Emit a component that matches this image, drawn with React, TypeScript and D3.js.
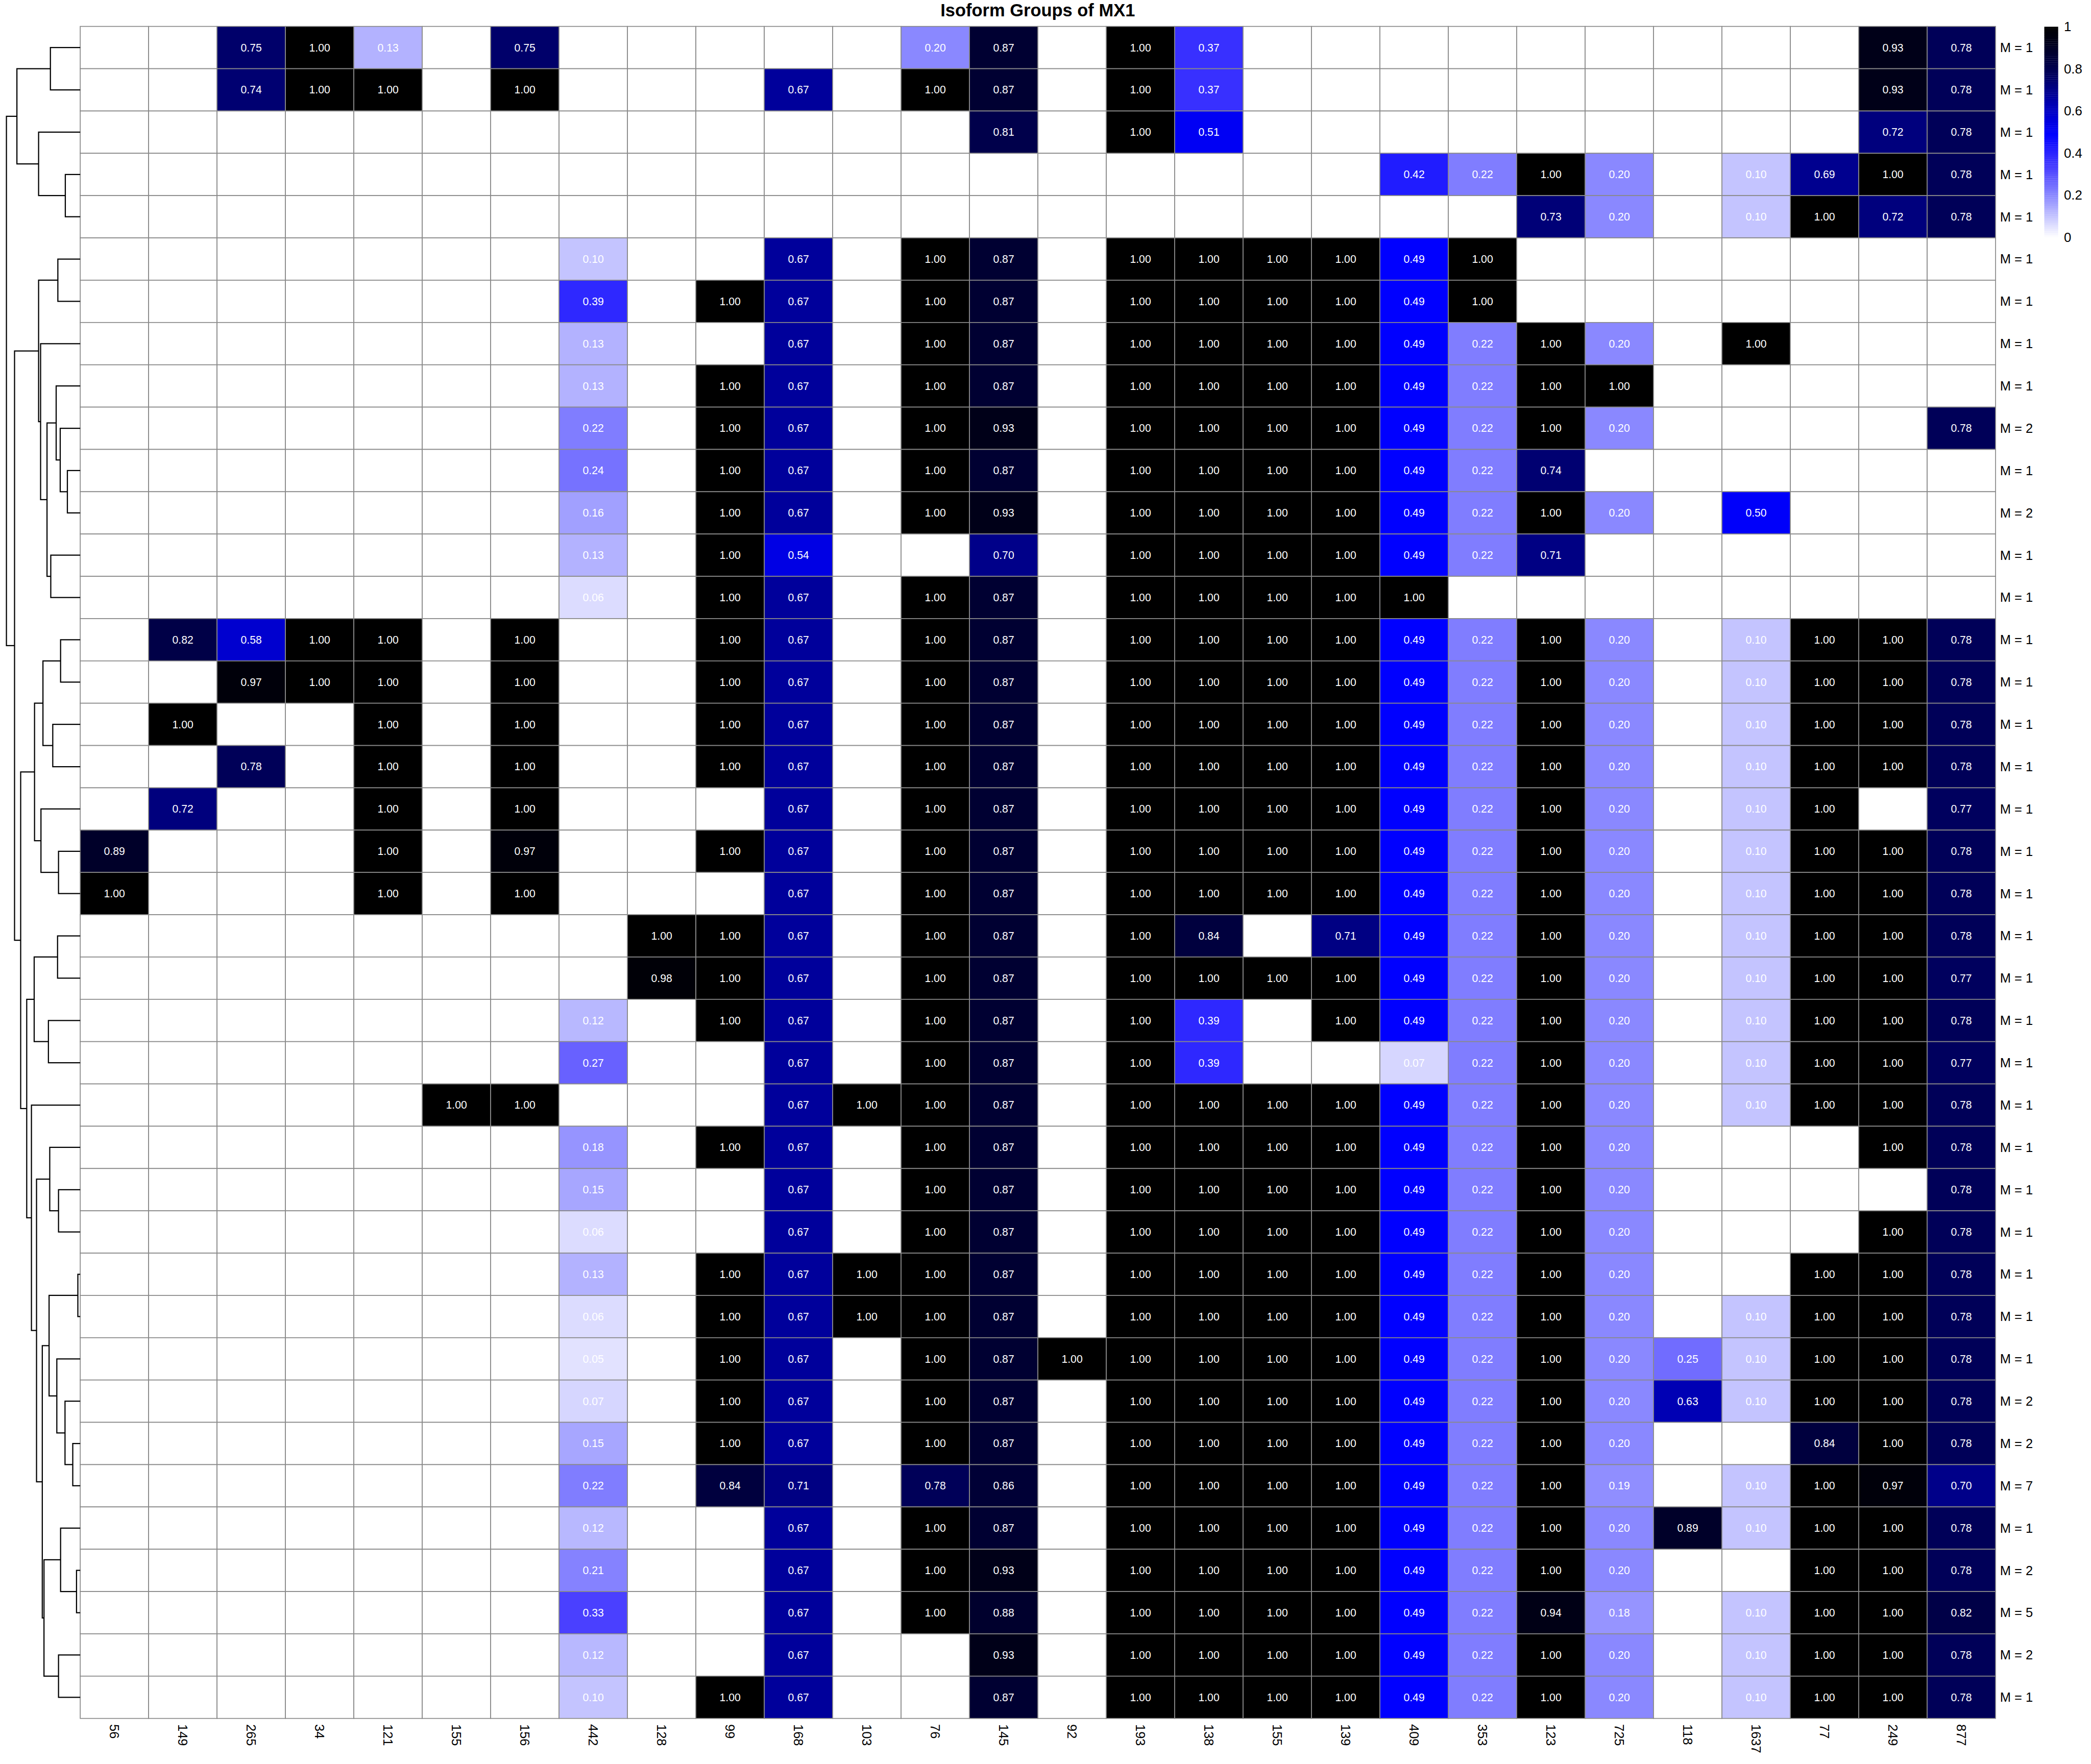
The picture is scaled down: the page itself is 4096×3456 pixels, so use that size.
import React from 'react';
import * as d3 from 'd3';

// reference is 6178 x 5213, window is 4096 x 3456
const S = 4096 / 6178;
const FONT = '"Liberation Sans", Arial, Helvetica, sans-serif';

const title = 'Isoform Groups of MX1';

const columns = ['56', '149', '265', '34', '121', '155', '156', '442', '128', '99', '168', '103', '76', '145',
  '92', '193', '138', '155', '139', '409', '353', '123', '725', '118', '1637', '77', '249', '877'];

const mCounts = [1, 1, 1, 1, 1, 1, 1, 1, 1, 2, 1, 2, 1, 1, 1, 1, 1, 1, 1, 1,
  1, 1, 1, 1, 1, 1, 1, 1, 1, 1, 1, 1, 2, 2, 7, 1, 2, 5, 2, 1];

const legendTicks = [0, 0.2, 0.4, 0.6, 0.8, 1];

const _ = null;
const values: (number | null)[][] = [
  [_, _, .75, 1, .13, _, .75, _, _, _, _, _, .20, .87, _, 1, .37, _, _, _, _, _, _, _, _, _, .93, .78],
  [_, _, .74, 1, 1, _, 1, _, _, _, .67, _, 1, .87, _, 1, .37, _, _, _, _, _, _, _, _, _, .93, .78],
  [_, _, _, _, _, _, _, _, _, _, _, _, _, .81, _, 1, .51, _, _, _, _, _, _, _, _, _, .72, .78],
  [_, _, _, _, _, _, _, _, _, _, _, _, _, _, _, _, _, _, _, .42, .22, 1, .20, _, .10, .69, 1, .78],
  [_, _, _, _, _, _, _, _, _, _, _, _, _, _, _, _, _, _, _, _, _, .73, .20, _, .10, 1, .72, .78],
  [_, _, _, _, _, _, _, .10, _, _, .67, _, 1, .87, _, 1, 1, 1, 1, .49, 1, _, _, _, _, _, _, _],
  [_, _, _, _, _, _, _, .39, _, 1, .67, _, 1, .87, _, 1, 1, 1, 1, .49, 1, _, _, _, _, _, _, _],
  [_, _, _, _, _, _, _, .13, _, _, .67, _, 1, .87, _, 1, 1, 1, 1, .49, .22, 1, .20, _, 1, _, _, _],
  [_, _, _, _, _, _, _, .13, _, 1, .67, _, 1, .87, _, 1, 1, 1, 1, .49, .22, 1, 1, _, _, _, _, _],
  [_, _, _, _, _, _, _, .22, _, 1, .67, _, 1, .93, _, 1, 1, 1, 1, .49, .22, 1, .20, _, _, _, _, .78],
  [_, _, _, _, _, _, _, .24, _, 1, .67, _, 1, .87, _, 1, 1, 1, 1, .49, .22, .74, _, _, _, _, _, _],
  [_, _, _, _, _, _, _, .16, _, 1, .67, _, 1, .93, _, 1, 1, 1, 1, .49, .22, 1, .20, _, .50, _, _, _],
  [_, _, _, _, _, _, _, .13, _, 1, .54, _, _, .70, _, 1, 1, 1, 1, .49, .22, .71, _, _, _, _, _, _],
  [_, _, _, _, _, _, _, .06, _, 1, .67, _, 1, .87, _, 1, 1, 1, 1, 1, _, _, _, _, _, _, _, _],
  [_, .82, .58, 1, 1, _, 1, _, _, 1, .67, _, 1, .87, _, 1, 1, 1, 1, .49, .22, 1, .20, _, .10, 1, 1, .78],
  [_, _, .97, 1, 1, _, 1, _, _, 1, .67, _, 1, .87, _, 1, 1, 1, 1, .49, .22, 1, .20, _, .10, 1, 1, .78],
  [_, 1, _, _, 1, _, 1, _, _, 1, .67, _, 1, .87, _, 1, 1, 1, 1, .49, .22, 1, .20, _, .10, 1, 1, .78],
  [_, _, .78, _, 1, _, 1, _, _, 1, .67, _, 1, .87, _, 1, 1, 1, 1, .49, .22, 1, .20, _, .10, 1, 1, .78],
  [_, .72, _, _, 1, _, 1, _, _, _, .67, _, 1, .87, _, 1, 1, 1, 1, .49, .22, 1, .20, _, .10, 1, _, .77],
  [.89, _, _, _, 1, _, .97, _, _, 1, .67, _, 1, .87, _, 1, 1, 1, 1, .49, .22, 1, .20, _, .10, 1, 1, .78],
  [1, _, _, _, 1, _, 1, _, _, _, .67, _, 1, .87, _, 1, 1, 1, 1, .49, .22, 1, .20, _, .10, 1, 1, .78],
  [_, _, _, _, _, _, _, _, 1, 1, .67, _, 1, .87, _, 1, .84, _, .71, .49, .22, 1, .20, _, .10, 1, 1, .78],
  [_, _, _, _, _, _, _, _, .98, 1, .67, _, 1, .87, _, 1, 1, 1, 1, .49, .22, 1, .20, _, .10, 1, 1, .77],
  [_, _, _, _, _, _, _, .12, _, 1, .67, _, 1, .87, _, 1, .39, _, 1, .49, .22, 1, .20, _, .10, 1, 1, .78],
  [_, _, _, _, _, _, _, .27, _, _, .67, _, 1, .87, _, 1, .39, _, _, .07, .22, 1, .20, _, .10, 1, 1, .77],
  [_, _, _, _, _, 1, 1, _, _, _, .67, 1, 1, .87, _, 1, 1, 1, 1, .49, .22, 1, .20, _, .10, 1, 1, .78],
  [_, _, _, _, _, _, _, .18, _, 1, .67, _, 1, .87, _, 1, 1, 1, 1, .49, .22, 1, .20, _, _, _, 1, .78],
  [_, _, _, _, _, _, _, .15, _, _, .67, _, 1, .87, _, 1, 1, 1, 1, .49, .22, 1, .20, _, _, _, _, .78],
  [_, _, _, _, _, _, _, .06, _, _, .67, _, 1, .87, _, 1, 1, 1, 1, .49, .22, 1, .20, _, _, _, 1, .78],
  [_, _, _, _, _, _, _, .13, _, 1, .67, 1, 1, .87, _, 1, 1, 1, 1, .49, .22, 1, .20, _, _, 1, 1, .78],
  [_, _, _, _, _, _, _, .06, _, 1, .67, 1, 1, .87, _, 1, 1, 1, 1, .49, .22, 1, .20, _, .10, 1, 1, .78],
  [_, _, _, _, _, _, _, .05, _, 1, .67, _, 1, .87, 1, 1, 1, 1, 1, .49, .22, 1, .20, .25, .10, 1, 1, .78],
  [_, _, _, _, _, _, _, .07, _, 1, .67, _, 1, .87, _, 1, 1, 1, 1, .49, .22, 1, .20, .63, .10, 1, 1, .78],
  [_, _, _, _, _, _, _, .15, _, 1, .67, _, 1, .87, _, 1, 1, 1, 1, .49, .22, 1, .20, _, _, .84, 1, .78],
  [_, _, _, _, _, _, _, .22, _, .84, .71, _, .78, .86, _, 1, 1, 1, 1, .49, .22, 1, .19, _, .10, 1, .97, .70],
  [_, _, _, _, _, _, _, .12, _, _, .67, _, 1, .87, _, 1, 1, 1, 1, .49, .22, 1, .20, .89, .10, 1, 1, .78],
  [_, _, _, _, _, _, _, .21, _, _, .67, _, 1, .93, _, 1, 1, 1, 1, .49, .22, 1, .20, _, _, 1, 1, .78],
  [_, _, _, _, _, _, _, .33, _, _, .67, _, 1, .88, _, 1, 1, 1, 1, .49, .22, .94, .18, _, .10, 1, 1, .82],
  [_, _, _, _, _, _, _, .12, _, _, .67, _, _, .93, _, 1, 1, 1, 1, .49, .22, 1, .20, _, .10, 1, 1, .78],
  [_, _, _, _, _, _, _, .10, _, 1, .67, _, _, .87, _, 1, 1, 1, 1, .49, .22, 1, .20, _, .10, 1, 1, .78],
];

// row dendrogram: [height, left, right], leaves are row indices (root height = 1)
const rowTree: any =
  [1.0,
    [0.858, [0.404, 0, 1], [0.564, 2, [0.202, 3, 4]]],
    [0.890,
      [0.564, [0.303, 5, 6], [0.537, 7, [0.450, [0.326, 8, [0.271, 9, [0.174, 10, 11]]], [0.399, 12, 13]]]],
      [0.807,
        [0.619, [0.505, [0.266, 14, 15], [0.372, 16, 17]], [0.532, 18, [0.294, 19, 20]]],
        [0.725,
          [0.624, [0.307, 21, 22], [0.431, 23, 24]],
          [0.661, 25, [0.592,
            [0.413, 26, [0.294, 27, 28]],
            [0.514,
              [0.422, [0.032, 29, 30], [0.317, 31, [0.206, 32, [0.101, 33, 34]]]],
              [0.491, [0.266, 35, [0.050, 36, 37]], [0.294, 38, 39]]]]]]]]];

// white -> blue -> black
const color = d3.scaleLinear<string>()
  .domain([0, 0.1, 0.2, 0.33, 0.49, 0.63, 0.78, 0.93, 1])
  .range(['#ffffff', '#c4c4ff', '#8a88ff', '#4a40ff', '#0000ff', '#0000b4', '#000058', '#000018', '#000000'])
  .clamp(true);

const fmt = d3.format('.2f');

const App = () => {
  const x = d3.scaleBand<number>().domain(d3.range(columns.length)).range([237, 5896]);
  const y = d3.scaleBand<number>().domain(d3.range(values.length)).range([78, 5078]);
  const hx = d3.scaleLinear().domain([0, 1]).range([237, 19]);
  const ly = d3.scaleLinear().domain([0, 1]).range([701, 79]);

  // dendrogram layout
  const root = d3.hierarchy(rowTree, (d: any) => (Array.isArray(d) ? [d[1], d[2]] : null));
  root.eachAfter((n: any) => {
    if (n.children) {
      n.px = hx(n.data[0]);
      n.py = (n.children[0].py + n.children[1].py) / 2;
    } else {
      n.px = hx(0);
      n.py = (y(n.data) as number) + y.bandwidth() / 2;
    }
  });
  const links: string[] = [];
  root.each((n: any) => {
    if (!n.children) return;
    const [a, b] = n.children;
    links.push(`M${a.px},${a.py}H${n.px}V${b.py}H${b.px}`);
  });

  const bands = d3.range(100);

  return (
    <svg width={4096} height={3456} style={{ position: 'absolute', left: 0, top: 0, background: '#fff' }}>
      <g transform={`scale(${S})`} fontFamily={FONT}>
        <text x={3066} y={49} textAnchor="middle" fontSize={52} fontWeight="bold">{title}</text>

        {/* cells */}
        {values.map((row, i) => row.map((v, j) => (
          <rect key={`c${i}-${j}`} x={x(j)} y={y(i)} width={x.bandwidth()} height={y.bandwidth()}
            fill={v == null ? '#ffffff' : color(v)} stroke="#8a8a8a" strokeWidth={2.6} />
        )))}
        {values.map((row, i) => row.map((v, j) => v == null ? null : (
          <text key={`t${i}-${j}`} x={(x(j) as number) + x.bandwidth() / 2} y={(y(i) as number) + y.bandwidth() / 2}
            dy="0.35em" textAnchor="middle" fontSize={32} fill="#ffffff">{fmt(v)}</text>
        )))}

        {/* dendrogram */}
        {links.map((d, i) => (
          <path key={`l${i}`} d={d} fill="none" stroke="#000" strokeWidth={3.4} />
        ))}

        {/* row labels */}
        {mCounts.map((m, i) => (
          <text key={`r${i}`} x={5909} y={(y(i) as number) + y.bandwidth() / 2} dy="0.35em" fontSize={38.5}>
            {`M = ${m}`}
          </text>
        ))}

        {/* column labels */}
        {columns.map((c, j) => (
          <text key={`x${j}`} fontSize={38.5} dy="0.35em"
            transform={`translate(${(x(j) as number) + x.bandwidth() / 2},5095) rotate(90)`}>{c}</text>
        ))}

        {/* legend */}
        {bands.map(i => (
          <rect key={`b${i}`} x={6040} width={41} y={ly((i + 1) / 100)} height={ly(i / 100) - ly((i + 1) / 100) + 0.5}
            fill={color((i + 0.5) / 100)} />
        ))}
        {legendTicks.map(t => (
          <text key={`lt${t}`} x={6098} y={ly(t)} dy="0.35em" fontSize={39}>{String(t)}</text>
        ))}
      </g>
    </svg>
  );
};

export default App;
